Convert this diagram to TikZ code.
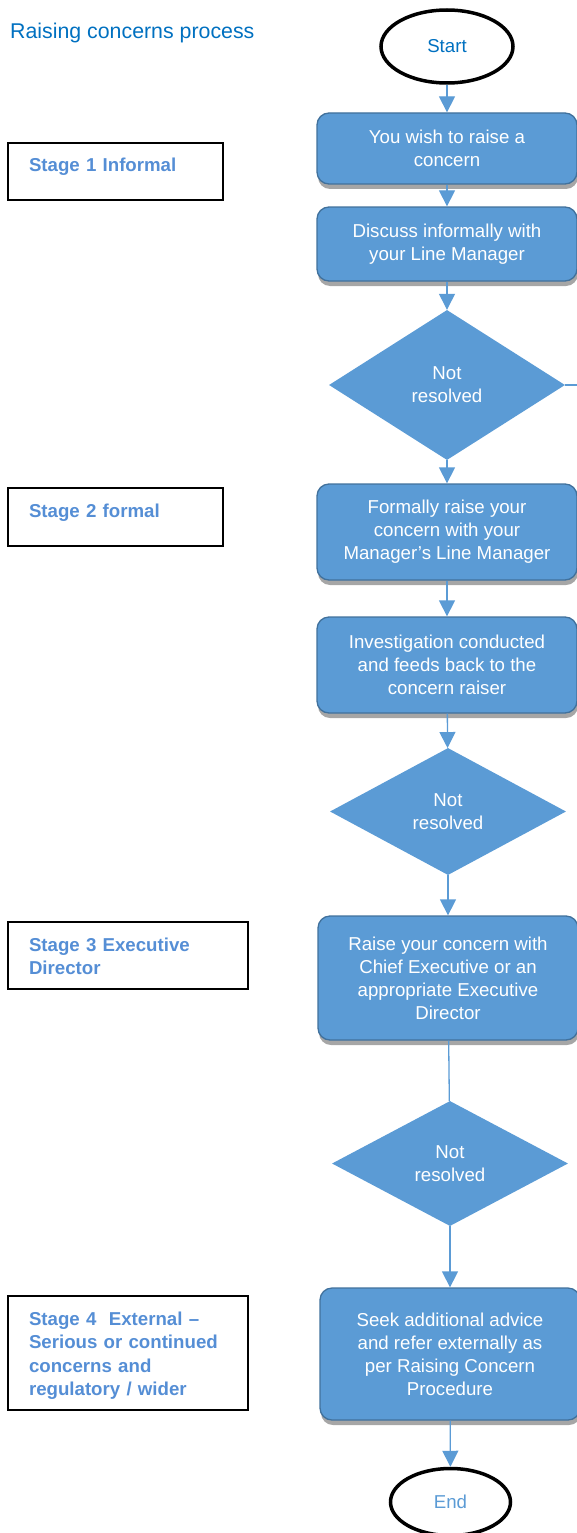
\documentclass[tikz,border=0pt]{standalone}
\usepackage{fontspec}
\setmainfont{Liberation Sans}
\usetikzlibrary{shapes.geometric,arrows.meta,shadows}

\definecolor{stepblue}{HTML}{5B9BD5}
\definecolor{stepedge}{HTML}{41719C}
\definecolor{titleblue}{HTML}{0070C0}
\definecolor{stagetext}{HTML}{558ED5}

\begin{document}
\begin{tikzpicture}[x=1pt,y=-1pt,font=\fontsize{18.67}{23}\selectfont,
	stepbox/.style={rectangle, rounded corners=12pt, draw=stepedge, line width=1.3pt, fill=stepblue, text=white, align=center, minimum width=260pt, inner sep=0pt, drop shadow={shadow xshift=1pt, shadow yshift=-5pt, fill=black!35, opacity=1}},
	decision/.style={diamond, fill=stepblue, text=white, align=center, inner sep=0pt, minimum width=236pt},
	terminal/.style={ellipse, draw=black, line width=3.5pt, inner sep=0pt},
	stagebox/.style={rectangle, draw=black, line width=2pt, anchor=north west, text=stagetext, font=\fontsize{18.67}{23.5}\selectfont\bfseries, align=left, inner xsep=21pt, inner ysep=0pt, text height=29pt},
	flow/.style={draw=stepblue, line width=1.3pt, -{Triangle[width=16pt,length=16pt]}},
	link/.style={draw=stepblue, line width=1.3pt}]
	\useasboundingbox (0,0) rectangle (576,1533);
	\node (title) at (10, 38.5)	[anchor=base west, inner sep=0pt, text=titleblue, font=\fontsize{21.33}{25}\selectfont]	{Raising concerns process};
	\node (S1) at (7, 142)	[stagebox, text width=173pt, text depth=28pt]	{Stage 1 Informal};
	\node (S2) at (7, 487)	[stagebox, text width=173pt, text depth=29pt]	{Stage 2 formal};
	\node (S3) at (7, 921)	[stagebox, text width=198pt, text depth=38pt]	{Stage 3 Executive\\Director};
	\node (S4) at (7, 1295)	[stagebox, text width=198pt, text depth=85pt]	{Stage 4~ External –\\Serious or continued\\concerns and\\regulatory / wider};
	\node (start) at (447, 46.5)	[terminal, minimum width=132pt, minimum height=73pt, text=titleblue]	{Start};
	\node (wish) at (447, 148.5)	[stepbox, minimum height=71pt]	{You wish to raise a\\concern};
	\node (discuss) at (447, 244)	[stepbox, minimum height=74pt]	{Discuss informally with\\your Line Manager};
	\node (notres1) at (447, 385)	[decision, minimum height=150pt]	{Not\\resolved};
	\coordinate (edge1) at (578, 385);
	\node (formal) at (447, 532)	[stepbox, minimum height=96pt]	{Formally raise your\\concern with your\\Manager’s Line Manager};
	\node (investigate) at (447, 665)	[stepbox, minimum height=96pt]	{Investigation conducted\\and feeds back to the\\concern raiser};
	\node (notres2) at (448, 811.5)	[decision, minimum height=127pt]	{Not\\resolved};
	\node (exec) at (448, 978)	[stepbox, minimum height=124pt]	{Raise your concern with\\Chief Executive or an\\appropriate Executive\\Director};
	\node (notres3) at (450, 1163.5)	[decision, minimum height=125pt]	{Not\\resolved};
	\node (advice) at (450, 1354)	[stepbox, minimum height=132pt]	{Seek additional advice\\and refer externally as\\per Raising Concern\\Procedure};
	\node (end) at (450.5, 1502)	[terminal, minimum width=120pt, minimum height=67pt, text=stepblue]	{End};
	\draw[flow] (start) -- (wish);
	\draw[flow] (wish) -- (discuss);
	\draw[flow] (discuss) -- (notres1);
	\draw[flow] (notres1) -- (formal);
	\draw[link] (notres1.east) -- (edge1);
	\draw[flow] (formal) -- (investigate);
	\draw[flow] (investigate) -- (notres2);
	\draw[flow] (notres2) -- (exec);
	\draw[link] (exec) -- (notres3);
	\draw[flow] (notres3) -- (advice);
	\draw[flow] (advice) -- (end);
\end{tikzpicture}
\end{document}
